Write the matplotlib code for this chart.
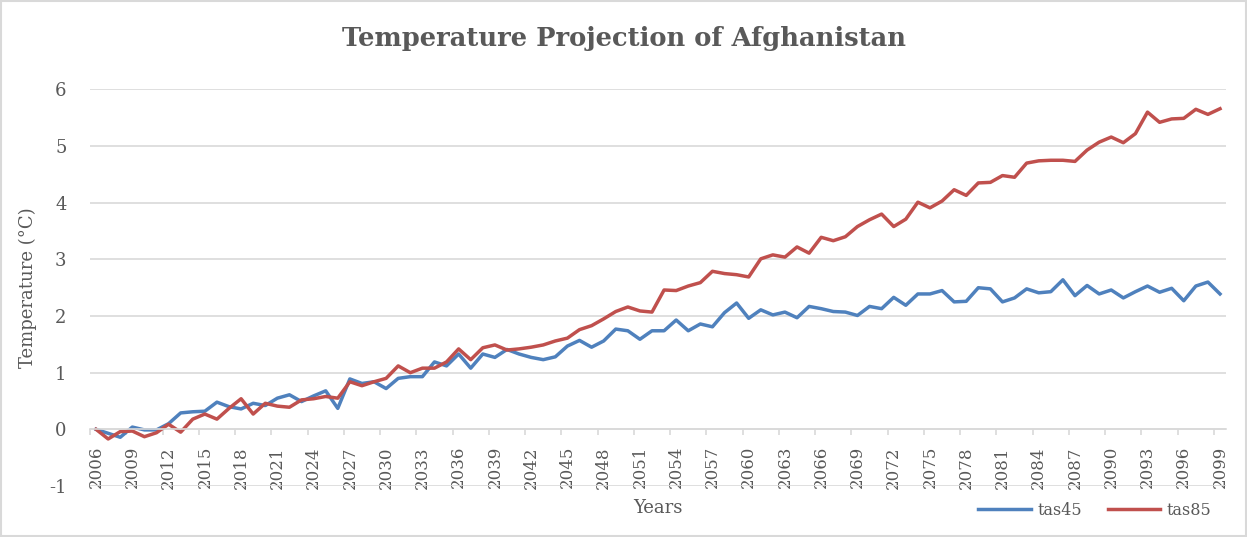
import matplotlib
matplotlib.use("Agg")
import matplotlib.pyplot as plt
from matplotlib.patches import Rectangle

## data (deg C anomaly, 2006-2099)
years = list(range(2006, 2100))
tas45 = [0.00, -0.07, -0.14, 0.04, -0.01, -0.01, 0.10, 0.29, 0.31, 0.32,
         0.48, 0.40, 0.36, 0.46, 0.42, 0.55, 0.61, 0.49, 0.59, 0.68,
         0.37, 0.89, 0.81, 0.84, 0.72, 0.90, 0.93, 0.93, 1.19, 1.12,
         1.33, 1.08, 1.33, 1.27, 1.41, 1.33, 1.27, 1.23, 1.28, 1.47,
         1.57, 1.45, 1.56, 1.77, 1.74, 1.59, 1.74, 1.74, 1.93, 1.74,
         1.86, 1.81, 2.06, 2.23, 1.96, 2.11, 2.02, 2.07, 1.97, 2.17,
         2.13, 2.08, 2.07, 2.01, 2.17, 2.13, 2.33, 2.19, 2.39, 2.39,
         2.45, 2.25, 2.26, 2.50, 2.48, 2.25, 2.32, 2.48, 2.41, 2.43,
         2.64, 2.36, 2.54, 2.39, 2.46, 2.32, 2.43, 2.53, 2.42, 2.49,
         2.27, 2.53, 2.60, 2.39]
tas85 = [0.00, -0.17, -0.04, -0.03, -0.13, -0.06, 0.09, -0.05, 0.18, 0.27,
         0.18, 0.37, 0.54, 0.27, 0.46, 0.41, 0.39, 0.52, 0.54, 0.58,
         0.55, 0.84, 0.77, 0.84, 0.90, 1.12, 1.00, 1.08, 1.08, 1.19,
         1.42, 1.23, 1.44, 1.49, 1.40, 1.42, 1.45, 1.49, 1.56, 1.61,
         1.76, 1.83, 1.95, 2.08, 2.16, 2.09, 2.07, 2.46, 2.45, 2.53,
         2.59, 2.79, 2.75, 2.73, 2.69, 3.01, 3.08, 3.04, 3.22, 3.11,
         3.39, 3.33, 3.40, 3.58, 3.70, 3.80, 3.58, 3.71, 4.01, 3.91,
         4.03, 4.23, 4.13, 4.35, 4.36, 4.48, 4.45, 4.70, 4.74, 4.75,
         4.75, 4.73, 4.93, 5.07, 5.16, 5.06, 5.22, 5.60, 5.42, 5.48,
         5.49, 5.65, 5.56, 5.66]
yticks = [-1, 0, 1, 2, 3, 4, 5, 6]

txt = '#595959'
grid = '#d9d9d9'
plt.rcParams['font.family'] = ['DejaVu Serif']
plt.rcParams['axes.unicode_minus'] = False

fig = plt.figure(figsize=(12.47, 5.37), dpi=100)
ax = fig.add_axes([0.0722, 0.0950, 0.9110, 0.7384])

ax.plot(years, tas45, color='#4F81BD', lw=2.5, label='tas45', solid_joinstyle='round')
ax.plot(years, tas85, color='#C0504D', lw=2.5, label='tas85', solid_joinstyle='round')

ax.set_xlim(years[0] - 0.5, years[-1] + 0.5)
ax.set_ylim(-1, 6)
ax.set_yticks(yticks)
ax.yaxis.grid(True, color=grid, lw=1.2)
ax.set_axisbelow(True)
ax.tick_params(axis='y', length=0, pad=17, labelsize=13, labelcolor=txt)

##x axis sits at y=0, tick marks between categories every 3 yrs
for s in ['top', 'right', 'left']:
    ax.spines[s].set_visible(False)
ax.spines['bottom'].set_position(('data', 0))
ax.spines['bottom'].set_color(grid)
ax.spines['bottom'].set_linewidth(1.2)
ax.set_xticks([y - 0.5 for y in years[::3]])
ax.set_xticklabels([])
ax.tick_params(axis='x', which='major', length=4, color=grid, width=1.2)
ax.set_xticks(years[::3], minor=True)
ax.set_xticklabels([str(y) for y in years[::3]], minor=True, rotation=90)
ax.tick_params(axis='x', which='minor', length=0, pad=12, labelsize=12, labelcolor=txt)

fig.text(0.5, 0.929, 'Temperature Projection of Afghanistan', ha='center', va='center',
         fontsize=18.5, fontweight='bold', color=txt)
fig.text(0.0225, 0.465, 'Temperature (°C)', rotation=90, ha='center', va='center',
         fontsize=13, color=txt)
fig.text(0.5277, 0.054, 'Years', ha='center', va='center', fontsize=13, color=txt)

fig.legend(loc='center', bbox_to_anchor=(0.878, 0.050), ncol=2, frameon=False,
           fontsize=11.5, handlelength=3.3, handletextpad=0.4, columnspacing=1.6,
           labelcolor=txt)

fig.patches.append(Rectangle((0.001, 0.002), 0.998, 0.996, transform=fig.transFigure,
                             fill=False, edgecolor=grid, lw=1.5))

fig.savefig('out.png', dpi=100)
